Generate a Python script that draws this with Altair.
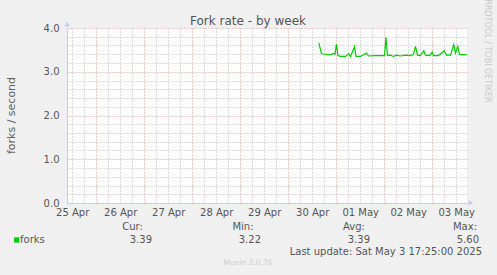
import altair as alt
import pandas as pd

# ---- data ----
times = [
    "2025-04-30T15:18", "2025-04-30T15:54", "2025-04-30T16:39", "2025-04-30T18:39",
    "2025-04-30T21:09", "2025-04-30T22:39", "2025-04-30T23:24", "2025-05-01T00:09",
    "2025-05-01T00:54", "2025-05-01T02:09", "2025-05-01T04:39", "2025-05-01T06:18",
    "2025-05-01T07:09", "2025-05-01T09:09", "2025-05-01T09:54", "2025-05-01T12:09",
    "2025-05-01T15:09", "2025-05-01T16:09", "2025-05-01T19:39", "2025-05-01T22:09",
    "2025-05-02T00:09", "2025-05-02T00:54", "2025-05-02T01:39", "2025-05-02T03:09",
    "2025-05-02T04:39", "2025-05-02T06:09", "2025-05-02T08:09", "2025-05-02T10:39",
    "2025-05-02T13:09", "2025-05-02T14:39", "2025-05-02T15:39", "2025-05-02T16:39",
    "2025-05-02T18:09", "2025-05-02T19:48", "2025-05-02T20:39", "2025-05-02T22:39",
    "2025-05-03T00:00", "2025-05-03T00:39", "2025-05-03T03:09", "2025-05-03T06:09",
    "2025-05-03T07:09", "2025-05-03T09:09", "2025-05-03T10:48", "2025-05-03T11:39",
    "2025-05-03T12:48", "2025-05-03T13:39", "2025-05-03T15:09", "2025-05-03T17:09",
]
forks = [
    3.66, 3.55, 3.41, 3.40,
    3.39, 3.42, 3.40, 3.63,
    3.37, 3.35, 3.35, 3.41,
    3.35, 3.57, 3.35, 3.35,
    3.43, 3.36, 3.37, 3.37,
    3.37, 3.79, 3.37, 3.38,
    3.35, 3.38, 3.36, 3.38,
    3.37, 3.40, 3.58, 3.38,
    3.37, 3.48, 3.38, 3.37,
    3.45, 3.37, 3.37, 3.48,
    3.38, 3.38, 3.62, 3.43,
    3.58, 3.39, 3.39, 3.39,
]
days = ["2025-04-25", "2025-04-26", "2025-04-27", "2025-04-28", "2025-04-29",
        "2025-04-30", "2025-05-01", "2025-05-02", "2025-05-03"]
range_start = "2025-04-25T09:25"
range_end = "2025-05-03T17:25"
y_ticks = [0.0, 1.0, 2.0, 3.0, 4.0]
stat_names = ["Cur:", "Min:", "Avg:", "Max:"]
stat_values = ["3.39", "3.22", "3.39", "5.60"]
series_name = "forks"
title_text = "Fork rate - by week"
y_title = "forks / second"
update_text = "Last update: Sat May  3 17:25:00 2025"
side_text = "RRDTOOL / TOBI OETIKER"
footer_text = "Munin 2.0.76"

# everything is handled in UTC so the page's time zone does not matter
df = pd.DataFrame({"time": pd.to_datetime(times), "forks": forks})
start = pd.Timestamp(range_start)
end = pd.Timestamp(range_end)
day_ts = [pd.Timestamp(d) for d in days]


def ms(ts):
    return int(ts.value // 10**6)


df["t"] = [ms(t) for t in df["time"]]

W, H = 400, 175
FONT = "DejaVu Sans"
TXT = "#555555"
RED = "#de9090"
MINOR = "#b8b8b8"
AXC = "#c8c8f4"

xs = alt.Scale(type="utc", domain=[ms(start), ms(end)], nice=False)
ys = alt.Scale(domain=[0, 4], nice=False)

midnights = [ms(d) for d in day_ts[1:]]
noons = [ms(d + pd.Timedelta(hours=12)) for d in day_ts]
quarters = [ms(d + pd.Timedelta(hours=h)) for d in day_ts for h in (6, 12, 18)]
quarters = [q for q in quarters if ms(start) <= q <= ms(end)]
minor_y = [round(i / 5, 1) for i in range(21) if i % 5]

base = alt.Chart(df)

# minor grid (6 h / 0.2)
minor = base.mark_line(strokeOpacity=0).encode(
    x=alt.X("t:T", scale=xs, axis=alt.Axis(
        orient="bottom", grid=True, gridColor=MINOR, gridDash=[1, 2], gridWidth=1,
        gridOpacity=1, labels=False, ticks=False, tickSize=0, domain=False,
        title=None, values=quarters)),
    y=alt.Y("forks:Q", scale=ys, axis=alt.Axis(
        orient="left", grid=True, gridColor=MINOR, gridDash=[1, 2], gridWidth=1,
        gridOpacity=1, labels=False, ticks=False, tickSize=0, domain=False,
        title=None, values=minor_y)),
)

# major grid (day / 1.0)
major = base.mark_line(strokeOpacity=0).encode(
    x=alt.X("t:T", scale=xs, axis=alt.Axis(
        orient="bottom", grid=True, gridColor=RED, gridDash=[1, 2], gridWidth=1,
        gridOpacity=1, labels=False, ticks=False, tickSize=0, domain=True,
        domainColor=AXC, domainWidth=1, title=None, values=midnights)),
    y=alt.Y("forks:Q", scale=ys, axis=alt.Axis(
        orient="left", grid=True, gridColor=RED, gridDash=[1, 2], gridWidth=1,
        gridOpacity=1, values=y_ticks, format=".1f", ticks=False, tickSize=0,
        labelPadding=8, domain=True, domainColor=AXC, domainWidth=1, title=None,
        labelFont=FONT, labelFontSize=10, labelColor=TXT)),
)

# day labels at noon
labels = base.mark_line(strokeOpacity=0).encode(
    x=alt.X("t:T", scale=xs, axis=alt.Axis(
        orient="bottom", grid=False, values=noons, format="%d %b",
        ticks=False, tickSize=0, domain=False, labelPadding=4, title=None,
        labelFont=FONT, labelFontSize=10, labelColor=TXT, labelFlush=False,
        labelOverlap=False)),
    y=alt.Y("forks:Q", scale=ys, axis=None),
)

line = base.mark_line(color="#00cc00", strokeWidth=1.2, interpolate="linear").encode(
    x=alt.X("t:T", scale=xs, axis=None),
    y=alt.Y("forks:Q", scale=ys, axis=None),
)

one = alt.Data(values=[{}])


def text(t, x, y, size=10, color=TXT, align="left", angle=0, baseline="middle"):
    return alt.Chart(one).mark_text(
        text=t, font=FONT, fontSize=size, color=color, align=align,
        baseline=baseline, angle=angle,
    ).encode(x=alt.value(x), y=alt.value(y))


X0, Y0 = 67, 28  # plot origin in page pixels
layers = [minor, major, labels, line]

# axis arrowheads
layers.append(alt.Chart(one).mark_point(shape="triangle-up", filled=True, color=AXC,
                                        size=28, opacity=1).encode(
    x=alt.value(0), y=alt.value(-4)))
layers.append(alt.Chart(one).mark_point(shape="triangle-right", filled=True, color=AXC,
                                        size=28, opacity=1).encode(
    x=alt.value(W + 4), y=alt.value(H)))

layers.append(text(title_text, 248 - X0, 21 - Y0, size=12, align="center"))
layers.append(text(y_title, 12 - X0, H / 2, size=11, align="center", angle=270,
                   color="#606060"))
layers.append(text(side_text, 487 - X0, 51 - Y0, size=8, color="#c8c8c8",
                   align="center", angle=90))

name_x = [132.5, 243, 354, 477]
name_al = ["center", "center", "center", "right"]
val_x = [152, 261, 370, 479]
for n, nx, na in zip(stat_names, name_x, name_al):
    layers.append(text(n, nx - X0, 227 - Y0, align=na))
for v, vx in zip(stat_values, val_x):
    layers.append(text(v, vx - X0, 239.5 - Y0, align="right"))

layers.append(alt.Chart(one).mark_square(filled=True, color="#00cc00", size=28,
                                         opacity=1).encode(
    x=alt.value(16.7 - X0), y=alt.value(240 - Y0)))
layers.append(text(series_name, 20 - X0, 239.5 - Y0))
layers.append(text(update_text, 482 - X0, 251.5 - Y0, align="right"))
layers.append(text(footer_text, 248 - X0, 263 - Y0, size=7.5, color="#cccccc",
                   align="center"))

chart = alt.layer(*layers).resolve_axis(x="independent", y="independent").properties(
    width=W, height=H,
    background="#f0f0f0",
    padding={"left": X0, "top": Y0, "right": 497 - X0 - W, "bottom": 275 - Y0 - H},
    autosize=alt.AutoSizeParams(type="none"),
).configure_view(fill="white", stroke=None).configure_axis(
    labelFont=FONT, labelColor=TXT, labelFontSize=10,
)

chart.save("out.html", embed_options={"renderer": "svg", "actions": False})
